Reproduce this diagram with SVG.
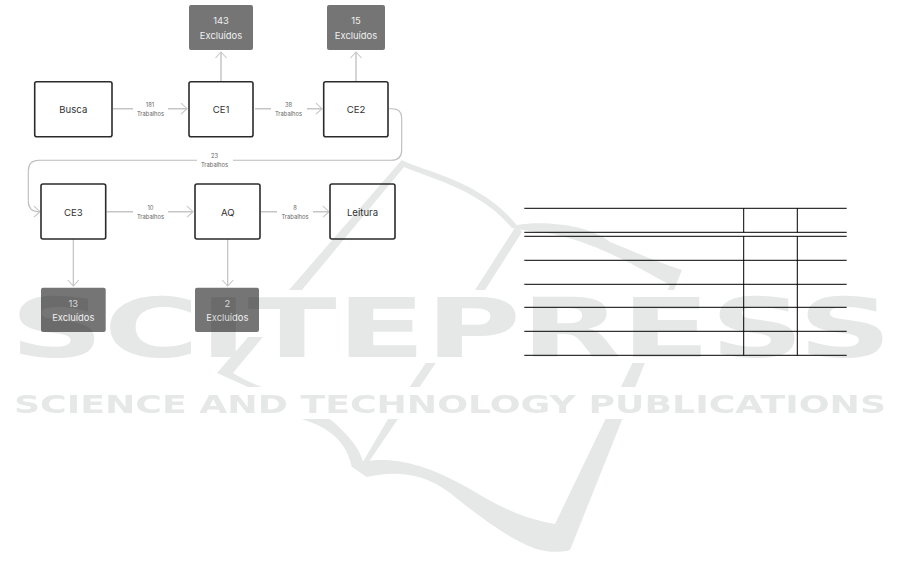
<svg xmlns="http://www.w3.org/2000/svg" width="901" height="587" viewBox="0 0 901 587">
<style>
text{font-family:"Inter","Liberation Sans",sans-serif;text-anchor:middle}
.box{fill:#fff;stroke:#2b2b2b;stroke-width:1.6}
.ex{fill:#757575;stroke:none}
.t{font-size:9.6px;fill:#333}
.e{font-size:9.4px;fill:#f0f0f0}
.s{font-size:5.8px;fill:#666}
.c{fill:none;stroke:#c6c6c6;stroke-width:1.5}
.a{fill:none;stroke:#bcbcbc;stroke-width:1.1}
.r{stroke:#000;stroke-width:1;fill:none}
.w{fill:#e6e8e7}
.wt{font-family:"DejaVu Sans",sans-serif;font-weight:700;fill:#e6e8e7;text-anchor:start}
</style>
<defs>
<clipPath id="logoClip">
<rect x="0" y="0" width="901" height="290"/>
<rect x="0" y="363" width="901" height="24"/>
<rect x="205" y="337" width="58" height="50"/>
<rect x="0" y="419" width="901" height="168"/>
</clipPath>
<marker id="head" markerWidth="10" markerHeight="12" refX="8.5" refY="6" orient="auto" markerUnits="userSpaceOnUse">
<path d="M2.500 .5 L8.500 6 L2.500 11.500" fill="none" stroke="#c6c6c6" stroke-width="1.100"/>
</marker>
</defs>
<rect width="901" height="587" fill="#fff"/>
<g id="connectors">
<path class="c" d="M113 108.700H133M168 108.700H187" marker-end="url(#head)"/>
<path class="c" d="M255 108.700H271M307 108.700H322" marker-end="url(#head)"/>
<path class="c" d="M221 81V52" marker-end="url(#head)"/>
<path class="c" d="M356 81V52" marker-end="url(#head)"/>
<path class="a" d="M389 108.700H392Q401.700 108.700 401.700 118V150Q401.700 160.300 391 160.300H233M197 160.300H39Q28.300 160.300 28.300 171V201Q28.300 211.700 39 211.700H40" marker-end="url(#head)"/>
<path class="c" d="M106.700 211.700H133M168 211.700H193" marker-end="url(#head)"/>
<path class="c" d="M261 211.700H277M313 211.700H329" marker-end="url(#head)"/>
<path class="a" d="M73.300 239V286" marker-end="url(#head)"/>
<path class="a" d="M227.700 239V286" marker-end="url(#head)"/>
<text class="s" x="150" y="106.500">181</text><text class="s" x="150.500" y="116.200">Trabalhos</text>
<text class="s" x="288.500" y="106.500">38</text><text class="s" x="288.500" y="116.200">Trabalhos</text>
<text class="s" x="214.500" y="157.500">23</text><text class="s" x="214.500" y="167.200">Trabalhos</text>
<text class="s" x="150.500" y="209.500">10</text><text class="s" x="150.500" y="219.200">Trabalhos</text>
<text class="s" x="295" y="209.500">8</text><text class="s" x="295" y="219.200">Trabalhos</text>
</g>
<g id="busca"><rect class="box" x="34.700" y="81.700" width="77.300" height="55" rx="2"/><text class="t" x="73.300" y="113">Busca</text></g>
<g id="ce1"><rect class="box" x="189" y="81.700" width="64" height="55" rx="2"/><text class="t" x="221" y="113">CE1</text></g>
<g id="ce2"><rect class="box" x="323.700" y="81.700" width="64.300" height="55" rx="2"/><text class="t" x="356" y="113">CE2</text></g>
<g id="ex143"><rect class="ex" x="189" y="5" width="64" height="45" rx="2"/><text class="e" x="221" y="24">143</text><text class="e" x="221" y="39">Excluídos</text></g>
<g id="ex15"><rect class="ex" x="327" y="5" width="58" height="45" rx="2"/><text class="e" x="356" y="24">15</text><text class="e" x="356" y="39">Excluídos</text></g>
<g id="ce3"><rect class="box" x="41" y="184" width="64.700" height="55" rx="2"/><text class="t" x="73.300" y="216">CE3</text></g>
<g id="aq"><rect class="box" x="195" y="184" width="65" height="55" rx="2"/><text class="t" x="227.700" y="216">AQ</text></g>
<g id="leitura"><rect class="box" x="330" y="184" width="65" height="55" rx="2"/><text class="t" x="362.500" y="216">Leitura</text></g>
<g id="ex13"><rect class="ex" x="41" y="287.700" width="64.700" height="44.300" rx="2"/><text class="e" x="73.300" y="306.500">13</text><text class="e" x="73.300" y="321">Excluídos</text></g>
<g id="ex2"><rect class="ex" x="195" y="287.700" width="64" height="44.300" rx="2"/><text class="e" x="227.300" y="306.500">2</text><text class="e" x="227.300" y="321">Excluídos</text></g>
<g id="table">
<path class="r" d="M524.300 208.300H846.700M524.300 232.300H846.700M524.300 236.300H846.700M524.300 260.300H846.700M524.300 284.300H846.700M524.300 307.300H846.700M524.300 331.300H846.700M524.300 355.300H846.700"/>
<path class="r" d="M743.700 208.300V232.300M797.300 208.300V232.300M743.700 236.300V355.300M797.300 236.300V355.300"/>
</g>
<g id="watermark" style="mix-blend-mode:multiply">
<g clip-path="url(#logoClip)">
<path class="w" d="M401.700 160C425 172 480 180 516.700 225C545 220 590 225 610 242C635 252 660 263 682 270L570 550C563 552 556 552 550 551.700C525 550 490 525 450 493C420 470 390 472 366.700 477L351.700 466.700C345 435 320 425 301.700 419L248 387L217 373ZM404 167L233 373C255 388 320 405 340 428C352 440 360 450 363 461.700C395 456 430 465 476.700 493C505 510 530 520 555 524L670 285C640 268 600 245 557 235C545 232 530 232 512 228C480 190 435 180 404 167Z" fill-rule="evenodd"/>
<path class="w" d="M516.700 225L475 290L388 419L363 461.700L368 463L398 419L485 290L522 232Z"/>
</g>
<text class="wt" x="10" y="357" font-size="82" textLength="882" lengthAdjust="spacingAndGlyphs">SCITEPRESS</text>
<text class="wt" x="14" y="413" font-size="25" textLength="872" lengthAdjust="spacingAndGlyphs">SCIENCE AND TECHNOLOGY PUBLICATIONS</text>
</g>
</svg>
